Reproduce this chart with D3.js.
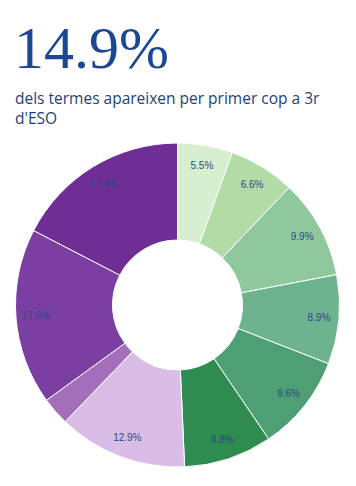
<!DOCTYPE html>
<html>
<head>
<meta charset="utf-8">
<script src="https://cdn.jsdelivr.net/npm/d3@7/dist/d3.min.js"></script>
<style>
    body { margin: 0; background: #fff; }
    #content { width: 356px; height: 486px; }
</style>
</head>
<body>
<div id="content"></div>
<script>
'use strict';

// valors llegits del gràfic, en sentit horari des de dalt
var categories = ['s1', 's2', 's3', 's4', 's5', 's6', 's7', 's8', 's9', 's10']
var values = [5.5, 6.6, 9.9, 8.9, 9.6, 8.8, 12.9, 2.8, 17.6, 17.4]
var colors = ['#d8eed0', '#b2dba6', '#8fc89c', '#6db38f', '#4f9f74', '#2f8c50',
    '#dabde6', '#a46fba', '#7b3fa3', '#6e2e96']
var headline = '14.9%'
var subtitle = ['dels termes apareixen per primer cop a 3r', "d'ESO"]

var ChartView = function() {
    var self = this
    self.width = 356
    self.height = 486
    self.cx = 177.5
    self.cy = 305
    self.outerR = 162
    self.innerR = 65
    self.labelR = 142
    self.svg = d3.select('#content').append('svg')
        .attr('width', self.width).attr('height', self.height)
    self.drawTitle()
    self.drawDonut()
}

ChartView.prototype.drawTitle = function() {
    var self = this
    self.svg.append('text')
        .attr('x', 14).attr('y', 68)
        .style('font-family', 'Liberation Serif')
        .style('font-size', '60px')
        .style('fill', '#1b4793')
        .text(headline)

    self.svg.selectAll('.sub').data(subtitle).enter().append('text')
        .attr('class', 'sub')
        .attr('x', 15)
        .attr('y', function(d, i) { return 104 + i * 20 })
        .style('font-family', 'Open Sans')
        .style('font-size', '15.5px')
        .style('fill', '#1f3f78')
        .text(function(d) { return d })
}

ChartView.prototype.drawDonut = function() {
    var self = this
    var data = categories.map(function(c, i) { return { name: c, value: values[i] } })
    var pie = d3.pie().sort(null).value(function(d) { return d.value })
    var arc = d3.arc().innerRadius(self.innerR).outerRadius(self.outerR)
    var labelArc = d3.arc().innerRadius(self.labelR).outerRadius(self.labelR)
    var color = d3.scaleOrdinal().domain(categories).range(colors)

    var g = self.svg.append('g')
        .attr('transform', 'translate(' + self.cx + ',' + self.cy + ')')

    var arcs = pie(data)
    g.selectAll('path').data(arcs).enter().append('path')
        .attr('d', arc)
        .style('fill', function(d) { return color(d.data.name) })
        .style('stroke', '#fff')
        .style('stroke-width', 1)

    // la llesca petita no porta etiqueta
    g.selectAll('.lbl').data(arcs.filter(function(d) { return d.data.value > 3 }))
        .enter().append('text')
        .attr('class', 'lbl')
        .attr('transform', function(d) { return 'translate(' + labelArc.centroid(d) + ')' })
        .attr('text-anchor', 'middle')
        .attr('dy', '0.35em')
        .style('font-family', 'Liberation Sans')
        .style('font-size', '10px')
        .style('fill', '#2a4a86')
        .text(function(d) { return d.data.value.toFixed(1) + '%' })
}

var chart = new ChartView()
</script>
</body>
</html>
